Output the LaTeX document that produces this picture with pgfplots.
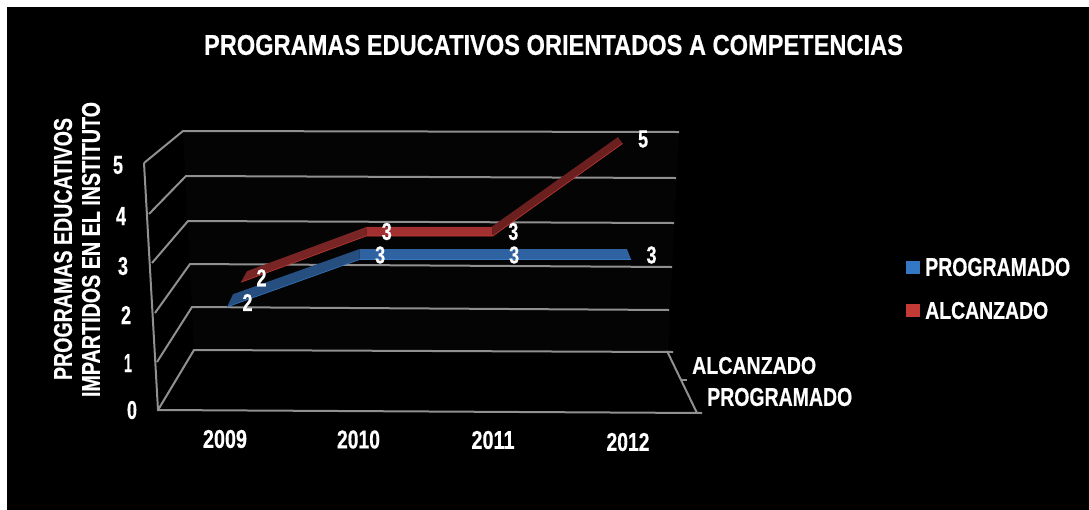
\documentclass[border=0pt]{standalone}
\usepackage{pgfplots}
\usepackage{fontspec}
\usepackage{graphicx}
\pgfplotsset{compat=1.18}
\setmainfont{Liberation Sans}[BoldFeatures={FakeBold=0.6}]
\definecolor{gridc}{HTML}{909090}
\definecolor{wallc}{HTML}{040404}
\definecolor{blueflat}{HTML}{2E62A0}
\definecolor{blueslope}{HTML}{264F80}
\definecolor{blueedge}{HTML}{3477C4}
\definecolor{redflat}{HTML}{A33030}
\definecolor{redslope}{HTML}{7A2525}
\definecolor{redslopeb}{HTML}{6B1F1F}
\definecolor{rededge}{HTML}{C43A34}
\newcommand\tx[3]{\resizebox{#1bp}{#2bp}{\bfseries #3}}
% Series values, with the horizontal position of each year in the receding plane
\pgfplotstableread{
pos   v
0     2
0.985 3
1.98  3
3     3
}\programado
\pgfplotstableread{
pos   v
0     2
0.985 3
1.98  3
3     5
}\alcanzado
\pgfplotsset{
  layer/.style={
    scale only axis, width=1089bp, height=510bp, at={(0,0)}, anchor=south west,
    hide axis, clip=false},
  series labels/.style={
    nodes near coords={\tx{10}{17}{\pgfmathprintnumber[assume math mode=true]{\pgfplotspointmeta}}},
    every node near coord/.style={anchor=center, xshift=20.5bp, yshift=4.5bp, text=white, inner sep=0pt}}
}
\begin{document}
\begin{tikzpicture}
\fill[white] (0,0) rectangle (1089bp,510bp);
% Page background, box walls, gridlines and all text, in page units
\begin{axis}[layer, xmin=0, xmax=1089, ymin=0, ymax=510, y dir=reverse]
\fill[black] (axis cs:7,7) rectangle (axis cs:1089,510);
\fill[wallc] (axis cs:183,131) -- (axis cs:679,132) -- (axis cs:668,352) -- (axis cs:194,350) -- cycle;
% back wall
\addplot[gridc, line width=2bp] coordinates {(144,163) (183,131) (679,132)};
\addplot[gridc, line width=2bp] coordinates {(149,214) (186,176) (676,178)};
\addplot[gridc, line width=2bp] coordinates {(152,263) (188,221) (674,223)};
\addplot[gridc, line width=2bp] coordinates {(155,313) (190,264) (672,267)};
\addplot[gridc, line width=2bp] coordinates {(157,362) (192,307) (669,310)};
\addplot[gridc, line width=2bp] coordinates {(158,410) (194,350) (673,352)};
% front edges
\addplot[gridc, line width=2bp] coordinates {(144,163) (158,410) (702,413)};
\addplot[gridc, line width=2bp] coordinates {(667,351) (697,413)};
\addplot[gridc, line width=1.6bp] coordinates {(681,380) (687,380)};
% title
\node[text=white, inner sep=0pt] at (axis cs:553.5,45) {\tx{699}{20}{PROGRAMAS EDUCATIVOS ORIENTADOS A COMPETENCIAS}};
\node[text=white, inner sep=0pt, rotate=90] at (axis cs:63,249) {\tx{262}{18}{PROGRAMAS EDUCATIVOS}};
\node[text=white, inner sep=0pt, rotate=90] at (axis cs:91,249.5) {\tx{295}{18}{IMPARTIDOS EN EL INSTITUTO}};
% value axis
\node[text=white, inner sep=0pt] at (axis cs:118,165) {\tx{10}{18}{5}};
\node[text=white, inner sep=0pt] at (axis cs:121,216) {\tx{10}{18}{4}};
\node[text=white, inner sep=0pt] at (axis cs:123,266) {\tx{10}{18}{3}};
\node[text=white, inner sep=0pt] at (axis cs:126,315) {\tx{10}{18}{2}};
\node[text=white, inner sep=0pt] at (axis cs:128,363) {\tx{8}{18}{1}};
\node[text=white, inner sep=0pt] at (axis cs:132,410) {\tx{10}{18}{0}};
% years
\node[text=white, inner sep=0pt] at (axis cs:225,439) {\tx{44}{18}{2009}};
\node[text=white, inner sep=0pt] at (axis cs:358.5,439.5) {\tx{43}{18}{2010}};
\node[text=white, inner sep=0pt] at (axis cs:493,440) {\tx{43}{18}{2011}};
\node[text=white, inner sep=0pt] at (axis cs:628,442) {\tx{43}{18}{2012}};
% depth axis names
\node[text=white, inner sep=0pt, anchor=west] at (axis cs:692,365.5) {\tx{124}{17}{ALCANZADO}};
\node[text=white, inner sep=0pt, anchor=west] at (axis cs:707,397) {\tx{145}{18}{PROGRAMADO}};
% legend
\fill[blueedge] (axis cs:906,261) rectangle (axis cs:920,274);
\fill[rededge] (axis cs:906,304) rectangle (axis cs:920,317);
\node[text=white, inner sep=0pt, anchor=west] at (axis cs:925,267) {\tx{145}{18}{PROGRAMADO}};
\node[text=white, inner sep=0pt, anchor=west] at (axis cs:925,310.5) {\tx{123}{17}{ALCANZADO}};
\end{axis}
% PROGRAMADO ribbon: 2 3 3 3
\begin{axis}[layer, xmin=-1.6856, xmax=6.4008, ymin=-2.2737, ymax=8.4632]
\addplot[fill=blueslope, draw=none] coordinates {(0,2) (0.985,3) (0.985,3.22) (0.045,2.27)} -- cycle;
\addplot[fill=blueflat, draw=none] coordinates {(0.985,3) (3,3) (2.97,3.22) (0.985,3.22)} -- cycle;
\addplot[blueedge, line width=0.6bp, series labels] table[x=pos, y=v] {\programado};
\end{axis}
% ALCANZADO ribbon: 2 3 3 5
\begin{axis}[layer, xmin=-1.8947, xmax=6.6667, ymin=-2.924, ymax=8.103]
\addplot[fill=redslope, draw=none] coordinates {(0,2) (0.985,3) (0.99,3.2) (0.047,2.24)} -- cycle;
\addplot[fill=redflat, draw=none] coordinates {(0.985,3) (1.98,3) (1.971,3.2) (0.99,3.2)} -- cycle;
\addplot[fill=redslopeb, draw=none] coordinates {(1.98,3) (3,5) (2.964,5.14) (1.971,3.2)} -- cycle;
\addplot[rededge, line width=0.6bp, series labels] table[x=pos, y=v] {\alcanzado};
\end{axis}
\end{tikzpicture}
\end{document}
